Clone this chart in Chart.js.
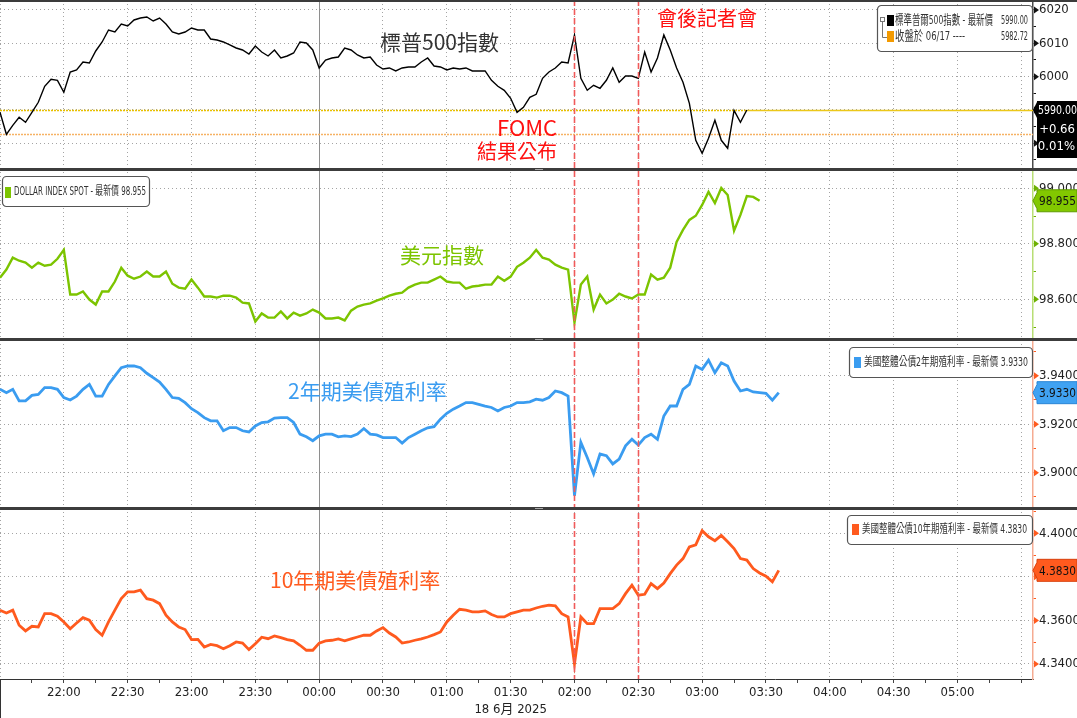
<!DOCTYPE html>
<html>
<head>
<meta charset="utf-8">
<script src="https://cdn.jsdelivr.net/npm/chart.js@4.4.1/dist/chart.umd.min.js"></script>
<style>
  html, body { margin: 0; padding: 0; background: #fff; }
</style>
</head>
<body>
<canvas id="chart" width="1077" height="718"></canvas>
<script>
// sample times (every 3 min, 17-18 Jun 2025)
var times = [
  '21:30','21:33','21:36','21:39','21:42','21:45','21:48','21:51','21:54','21:57',
  '22:00','22:03','22:06','22:09','22:12','22:15','22:18','22:21','22:24','22:27',
  '22:30','22:33','22:36','22:39','22:42','22:45','22:48','22:51','22:54','22:57',
  '23:00','23:03','23:06','23:09','23:12','23:15','23:18','23:21','23:24','23:27',
  '23:30','23:33','23:36','23:39','23:42','23:45','23:48','23:51','23:54','23:57',
  '00:00','00:03','00:06','00:09','00:12','00:15','00:18','00:21','00:24','00:27',
  '00:30','00:33','00:36','00:39','00:42','00:45','00:48','00:51','00:54','00:57',
  '01:00','01:03','01:06','01:09','01:12','01:15','01:18','01:21','01:24','01:27',
  '01:30','01:33','01:36','01:39','01:42','01:45','01:48','01:51','01:54','01:57',
  '02:00','02:03','02:06','02:09','02:12','02:15','02:18','02:21','02:24','02:27',
  '02:30','02:33','02:36','02:39','02:42','02:45','02:48','02:51','02:54','02:57',
  '03:00','03:03','03:06','03:09','03:12','03:15','03:18','03:21','03:24','03:27',
  '03:30','03:33','03:36'
];

var spx = [
  5989.3, 5982.7, 5985.4, 5987.8, 5986.3, 5989.3, 5992.3, 5997.1, 5999.2, 5998.9,
  5995.3, 6001.4, 6002.0, 6004.4, 6004.1, 6007.7, 6010.4, 6014.0, 6013.4, 6015.8,
  6015.2, 6017.0, 6017.6, 6017.9, 6016.7, 6017.6, 6015.8, 6013.4, 6012.8, 6013.4,
  6014.6, 6014.0, 6014.0, 6011.3, 6011.0, 6010.4, 6009.5, 6008.6, 6008.0, 6006.8,
  6009.2, 6007.4, 6006.2, 6008.0, 6005.6, 6006.2, 6007.1, 6010.4, 6010.1, 6008.0,
  6002.6, 6005.0, 6005.6, 6005.9, 6008.6, 6008.0, 6006.5, 6005.6, 6005.9, 6003.5,
  6002.3, 6002.6, 6001.7, 6002.6, 6002.9, 6002.9, 6004.4, 6005.6, 6003.2, 6002.9,
  6002.0, 6002.6, 6002.3, 6002.6, 6001.7, 6001.7, 6001.7, 5998.9, 5997.1, 5995.9,
  5993.5, 5989.3, 5990.8, 5993.8, 5994.7, 5999.5, 6001.4, 6002.6, 6004.4, 6004.1,
  6012.5, 5999.5, 5995.9, 5997.4, 5996.5, 5998.9, 6002.6, 5998.3, 6000.2, 6000.2,
  5999.5, 6007.4, 6001.4, 6005.6, 6012.5, 6008.0, 6002.6, 5998.3, 5992.0, 5980.9,
  5977.0, 5981.5, 5986.9, 5980.9, 5978.5, 5989.9, 5986.3, 5990.0
];

var dxy = [
  98.678, 98.707, 98.750, 98.739, 98.732, 98.714, 98.732, 98.721, 98.725, 98.746,
  98.778, 98.617, 98.617, 98.628, 98.599, 98.581, 98.628, 98.628, 98.664, 98.714,
  98.685, 98.674, 98.682, 98.700, 98.682, 98.682, 98.700, 98.656, 98.642, 98.638,
  98.671, 98.642, 98.610, 98.610, 98.606, 98.613, 98.613, 98.606, 98.588, 98.585,
  98.520, 98.549, 98.534, 98.534, 98.556, 98.531, 98.552, 98.541, 98.549, 98.563,
  98.552, 98.531, 98.531, 98.534, 98.524, 98.559, 98.574, 98.581, 98.585, 98.595,
  98.603, 98.613, 98.620, 98.624, 98.642, 98.653, 98.660, 98.660, 98.671, 98.682,
  98.664, 98.660, 98.660, 98.638, 98.646, 98.649, 98.653, 98.653, 98.682, 98.667,
  98.682, 98.717, 98.732, 98.750, 98.778, 98.750, 98.743, 98.725, 98.714, 98.707,
  98.516, 98.653, 98.682, 98.563, 98.617, 98.585, 98.599, 98.620, 98.610, 98.603,
  98.617, 98.617, 98.689, 98.671, 98.678, 98.714, 98.807, 98.850, 98.886, 98.901,
  98.940, 98.987, 98.947, 99.001, 98.976, 98.847, 98.904, 98.972, 98.969, 98.955
];

var us2y = [
  3.9344, 3.9330, 3.9344, 3.9296, 3.9296, 3.9319, 3.9323, 3.9351, 3.9351, 3.9344,
  3.9310, 3.9300, 3.9316, 3.9344, 3.9364, 3.9316, 3.9316, 3.9364, 3.9399, 3.9433,
  3.9440, 3.9440, 3.9433, 3.9410, 3.9392, 3.9374, 3.9344, 3.9310, 3.9307, 3.9289,
  3.9264, 3.9248, 3.9227, 3.9214, 3.9214, 3.9173, 3.9186, 3.9186, 3.9173, 3.9168,
  3.9193, 3.9207, 3.9210, 3.9225, 3.9227, 3.9227, 3.9207, 3.9159, 3.9148, 3.9132,
  3.9152, 3.9159, 3.9159, 3.9148, 3.9152, 3.9149, 3.9159, 3.9182, 3.9159, 3.9156,
  3.9145, 3.9145, 3.9145, 3.9122, 3.9145, 3.9159, 3.9173, 3.9185, 3.9190, 3.9221,
  3.9245, 3.9262, 3.9275, 3.9289, 3.9289, 3.9282, 3.9275, 3.9269, 3.9255, 3.9269,
  3.9275, 3.9289, 3.9289, 3.9292, 3.9303, 3.9299, 3.9310, 3.9337, 3.9330, 3.9316,
  3.8905, 3.9125, 3.9063, 3.8995, 3.9077, 3.9070, 3.9036, 3.9056, 3.9111, 3.9138,
  3.9114, 3.9145, 3.9159, 3.9138, 3.9234, 3.9275, 3.9275, 3.9344, 3.9364, 3.9440,
  3.9426, 3.9464, 3.9412, 3.9453, 3.9440, 3.9378, 3.9337, 3.9344, 3.9333, 3.9330,
  3.9327, 3.9299, 3.9330
];

var us10y = [
  4.3647, 4.3634, 4.3647, 4.3578, 4.3552, 4.3573, 4.3570, 4.3631, 4.3631, 4.3619,
  4.3593, 4.3562, 4.3588, 4.3613, 4.3601, 4.3558, 4.3532, 4.3593, 4.3647, 4.3700,
  4.3731, 4.3731, 4.3739, 4.3700, 4.3693, 4.3677, 4.3624, 4.3593, 4.3570, 4.3558,
  4.3512, 4.3513, 4.3478, 4.3490, 4.3484, 4.3470, 4.3484, 4.3501, 4.3496, 4.3466,
  4.3493, 4.3523, 4.3516, 4.3529, 4.3521, 4.3512, 4.3506, 4.3486, 4.3463, 4.3463,
  4.3496, 4.3506, 4.3509, 4.3515, 4.3506, 4.3515, 4.3524, 4.3532, 4.3532, 4.3552,
  4.3567, 4.3542, 4.3524, 4.3496, 4.3501, 4.3509, 4.3515, 4.3524, 4.3535, 4.3547,
  4.3593, 4.3624, 4.3651, 4.3647, 4.3639, 4.3639, 4.3644, 4.3627, 4.3616, 4.3616,
  4.3631, 4.3639, 4.3647, 4.3647, 4.3657, 4.3665, 4.3670, 4.3667, 4.3631, 4.3616,
  4.3401, 4.3616, 4.3585, 4.3585, 4.3654, 4.3654, 4.3654, 4.3677, 4.3723, 4.3762,
  4.3716, 4.3720, 4.3769, 4.3746, 4.3772, 4.3815, 4.3854, 4.3884, 4.3938, 4.3947,
  4.4012, 4.3984, 4.3966, 4.3990, 4.3961, 4.3930, 4.3884, 4.3877, 4.3838, 4.3818,
  4.3803, 4.3777, 4.3830
];

// axis ticks
var xTickLabels = ['22:00','22:30','23:00','23:30','00:00','00:30','01:00','01:30',
                   '02:00','02:30','03:00','03:30','04:00','04:30','05:00'];
var dateLabel = '18 6月 2025';
var spxTicks = [5975, 5980, 5985, 5990, 5995, 6000, 6005, 6010, 6015, 6020];
var spxMajor = [5980, 5990, 6000, 6010, 6020];
var dxyTicks = [98.5, 98.6, 98.7, 98.8, 98.9, 99.0];
var dxyMajor = [98.6, 98.8, 99.0];
var us2yTicks = [3.89, 3.90, 3.91, 3.92, 3.93, 3.94, 3.95];
var us2yMajor = [3.90, 3.92, 3.94];
var us10yTicks = [4.34, 4.35, 4.36, 4.37, 4.38, 4.39, 4.40, 4.41];
var us10yMajor = [4.34, 4.36, 4.38, 4.40];

// reference levels and events
var spxPrevClose = 5982.72;
var spxLast = 5990.00;
var spxChange = '+0.66';
var spxChangePct = '0.01%';
var eventTimes = ['02:00', '02:30'];

var NARROW = "'Liberation Sans Narrow', 'DejaVu Sans Condensed', 'Noto Sans CJK TC', sans-serif";
var CJK = "'Noto Sans CJK TC', 'Noto Sans', sans-serif";

function toMin(t) {
    var h = +t.slice(0, 2), m = +t.slice(3, 5);
    var v = h * 60 + m;
    if (h < 12) v += 24 * 60;
    return v - (21 * 60 + 30);
}

function isMajor(list, v) {
    return list.some(function (m) { return Math.abs(m - v) < 1e-7; });
}

var panels = [
    { id: 'ySpx', data: spx, ticks: spxTicks, major: spxMajor, digits: 0, min: 5972.06, max: 6023.0,
      color: '#000000', width: 1.4, axis: '#4a4a4a', arrow: '#111111' },
    { id: 'yDxy', data: dxy, ticks: dxyTicks, major: dxyMajor, digits: 3, min: 98.4551, max: 99.0668,
      color: '#7cc400', width: 2.4, axis: '#b8de74', arrow: '#6cb000' },
    { id: 'y2y', data: us2y, ticks: us2yTicks, major: us2yMajor, digits: 4, min: 3.88493, max: 3.95493,
      color: '#3a9cf0', width: 2.8, axis: '#f5ab92', arrow: '#ff5a1e' },
    { id: 'y10y', data: us10y, ticks: us10yTicks, major: us10yMajor, digits: 4, min: 4.33311, max: 4.41104,
      color: '#ff5a1e', width: 2.8, axis: '#f5ab92', arrow: '#ff5a1e' }
];

var scales = {
    x: {
        type: 'linear', position: 'bottom', min: 0, max: 485.5,
        afterBuildTicks: function (s) {
            var t = [];
            for (var m = 0; m <= 480; m += 15) t.push({ value: m });
            s.ticks = t;
        },
        afterFit: function (s) { s.height = 39; s.paddingLeft = 0; s.paddingRight = 0; },
        ticks: {
            autoSkip: false, maxRotation: 0, padding: 2, color: '#222', font: { size: 13 },
            callback: function (v) {
                var hit = xTickLabels.find(function (l) { return toMin(l) === v; });
                return hit || '';
            }
        },
        grid: {
            color: function (c) { return c.tick && c.tick.value % 30 === 0 ? '#a4a4a4' : 'rgba(0,0,0,0)'; },
            tickColor: '#444', tickLength: 4, lineWidth: 1
        },
        border: { color: '#333', width: 1, dash: [1, 3] }
    }
};

panels.forEach(function (p) {
    scales[p.id] = {
        type: 'linear', position: 'right', stack: 'panels', stackWeight: 1,
        min: p.min, max: p.max,
        afterBuildTicks: function (s) { s.ticks = p.ticks.map(function (v) { return { value: v }; }); },
        afterFit: function (s) { s.width = 44; s.paddingTop = 0; s.paddingBottom = 0; },
        ticks: {
            autoSkip: false, padding: 3, color: '#222', font: { size: 13 },
            callback: function (v) { return isMajor(p.major, v) ? v.toFixed(p.digits) : ''; }
        },
        grid: {
            color: function (c) { return c.tick && isMajor(p.major, c.tick.value) ? '#a4a4a4' : 'rgba(0,0,0,0)'; },
            tickColor: p.arrow, tickLength: 3, lineWidth: 1
        },
        border: { color: p.axis, width: 1.5, dash: [1, 3] }
    };
});

var datasets = panels.map(function (p) {
    return {
        data: p.data.map(function (v, i) { return { x: toMin(times[i]), y: v }; }),
        yAxisID: p.id, xAxisID: 'x',
        borderColor: p.color, borderWidth: p.width,
        pointRadius: 0, tension: 0, fill: false
    };
});

var annotations = [
    { text: '標普500指數', x: 380, y: 42, size: 21, color: '#333333' },
    { text: 'FOMC', x: 497, y: 128, size: 22, color: '#ff1010' },
    { text: '結果公布', x: 477, y: 151, size: 20, color: '#ff1010' },
    { text: '會後記者會', x: 657, y: 18, size: 20, color: '#ff1010' },
    { text: '美元指數', x: 400, y: 255, size: 21, color: '#7cc400' },
    { text: '2年期美債殖利率', x: 288, y: 391, size: 21, color: '#3a9cf0' },
    { text: '10年期美債殖利率', x: 270, y: 580, size: 21, color: '#ff5a1e' }
];

function legendBox(ctx, x, y, w, h) {
    ctx.beginPath();
    ctx.roundRect(x + 0.5, y + 0.5, w, h, 4);
    ctx.fillStyle = '#ffffff';
    ctx.fill();
    ctx.lineWidth = 1.2;
    ctx.strokeStyle = '#555555';
    ctx.stroke();
}

function tagBox(ctx, yc, top, bottom, fill, stroke) {
    var l = 1037, r = 1077;
    ctx.beginPath();
    ctx.moveTo(1033, yc);
    ctx.lineTo(l, Math.max(top, yc - 8));
    ctx.lineTo(l, top);
    ctx.lineTo(r, top);
    ctx.lineTo(r, bottom);
    ctx.lineTo(l, bottom);
    ctx.lineTo(l, Math.min(bottom, yc + 8));
    ctx.closePath();
    ctx.fillStyle = fill;
    ctx.fill();
    if (stroke) {
        ctx.lineWidth = 1;
        ctx.strokeStyle = stroke;
        ctx.stroke();
    }
}

var overlay = {
    id: 'overlay',
    beforeDatasetsDraw: function (chart) {
        var ctx = chart.ctx, a = chart.chartArea, x = chart.scales.x, ys = chart.scales.ySpx;
        ctx.save();
        // day boundary
        var mx = Math.round(x.getPixelForValue(toMin('00:00'))) + 0.5;
        ctx.strokeStyle = '#8e8e8e';
        ctx.lineWidth = 1;
        ctx.beginPath(); ctx.moveTo(mx, a.top); ctx.lineTo(mx, a.bottom); ctx.stroke();
        // previous close
        var yp = Math.round(ys.getPixelForValue(spxPrevClose)) + 0.5;
        ctx.setLineDash([2, 1]);
        ctx.strokeStyle = '#f6b264';
        ctx.lineWidth = 1.3;
        ctx.beginPath(); ctx.moveTo(a.left, yp); ctx.lineTo(a.right, yp); ctx.stroke();
        // last price
        var yl = Math.round(ys.getPixelForValue(spxLast)) + 0.5;
        var xl = x.getPixelForValue(toMin(times[spx.length - 1]));
        ctx.strokeStyle = '#e8c000';
        ctx.beginPath(); ctx.moveTo(a.left, yl); ctx.lineTo(xl, yl); ctx.stroke();
        ctx.setLineDash([]);
        ctx.strokeStyle = '#ecc81a';
        ctx.lineWidth = 1.5;
        ctx.beginPath(); ctx.moveTo(xl, yl); ctx.lineTo(a.right, yl); ctx.stroke();
        ctx.restore();
    },
    afterDatasetsDraw: function (chart) {
        var ctx = chart.ctx, a = chart.chartArea, x = chart.scales.x;
        ctx.save();
        // FOMC / press conference markers
        ctx.strokeStyle = '#f05a5a';
        ctx.lineWidth = 1.6;
        ctx.setLineDash([6, 3]);
        eventTimes.forEach(function (t) {
            var ex = Math.round(x.getPixelForValue(toMin(t))) + 0.5;
            ctx.beginPath(); ctx.moveTo(ex, a.top); ctx.lineTo(ex, a.bottom); ctx.stroke();
        });
        ctx.setLineDash([]);
        // text annotations
        ctx.textBaseline = 'middle';
        ctx.textAlign = 'left';
        annotations.forEach(function (n) {
            ctx.font = n.size + 'px ' + CJK;
            ctx.fillStyle = n.color;
            ctx.fillText(n.text, n.x, n.y);
        });
        ctx.restore();
    },
    afterDraw: function (chart) {
        var ctx = chart.ctx, x = chart.scales.x;
        var sc = panels.map(function (p) { return chart.scales[p.id]; });
        ctx.save();

        // axis arrows at labelled ticks
        panels.forEach(function (p, k) {
            ctx.fillStyle = p.arrow;
            p.major.forEach(function (v) {
                var ty = sc[k].getPixelForValue(v);
                ctx.beginPath();
                ctx.moveTo(1034, ty - 3.5); ctx.lineTo(1039, ty); ctx.lineTo(1034, ty + 3.5);
                ctx.closePath(); ctx.fill();
            });
        });

        // panel separators
        ctx.fillStyle = '#3c3c3c';
        ctx.fillRect(0, 0, 1077, 2);
        for (var k = 1; k < sc.length; k++) {
            var sy = Math.round(sc[k].top);
            ctx.fillStyle = '#3c3c3c';
            ctx.fillRect(0, sy - 2, 1077, 3);
            ctx.fillStyle = '#a8a8a8';
            ctx.fillRect(535, sy - 1, 8, 1);
        }
        ctx.fillStyle = '#333';
        ctx.fillRect(0, chart.chartArea.bottom, 1, 718 - chart.chartArea.bottom);

        // legends
        ctx.textBaseline = 'middle';
        // S&P 500
        legendBox(ctx, 877, 5, 155, 46);
        ctx.strokeStyle = '#777'; ctx.lineWidth = 1;
        ctx.strokeRect(880.5, 17.5, 4, 4);
        ctx.beginPath(); ctx.moveTo(882.5, 22); ctx.lineTo(882.5, 37.5); ctx.lineTo(887, 37.5); ctx.stroke();
        ctx.fillStyle = '#000'; ctx.fillRect(887, 15, 7, 11);
        ctx.fillStyle = '#f39a00'; ctx.fillRect(887, 31, 7, 11);
        ctx.fillStyle = '#333';
        ctx.textAlign = 'left';
        ctx.font = '13px ' + NARROW;
        ctx.fillText('標準普爾500指數 - 最新價', 895, 21, 98);
        ctx.fillText('收盤於 06/17 ----', 895, 37, 70);
        ctx.textAlign = 'right';
        ctx.font = '12px ' + NARROW;
        ctx.fillText(spxLast.toFixed(2), 1028, 21, 27);
        ctx.fillText(spxPrevClose.toFixed(2), 1028, 37, 27);
        // Dollar index
        legendBox(ctx, 2, 176, 147, 30);
        ctx.fillStyle = '#7cc400'; ctx.fillRect(5, 187, 6, 11);
        ctx.fillStyle = '#333'; ctx.textAlign = 'left';
        ctx.font = '12px ' + NARROW;
        ctx.fillText('DOLLAR INDEX SPOT - 最新價 ' + dxy[dxy.length - 1].toFixed(3), 14, 192, 132);
        // 2Y
        legendBox(ctx, 849, 347, 183, 30);
        ctx.fillStyle = '#3a9cf0'; ctx.fillRect(854, 357, 7, 11);
        ctx.fillStyle = '#333';
        ctx.fillText('美國整體公債2年期殖利率 - 最新價 ' + us2y[us2y.length - 1].toFixed(4), 864, 363, 164);
        // 10Y
        legendBox(ctx, 847, 515, 185, 29);
        ctx.fillStyle = '#ff5a1e'; ctx.fillRect(852, 524, 7, 11);
        ctx.fillStyle = '#333';
        ctx.fillText('美國整體公債10年期殖利率 - 最新價 ' + us10y[us10y.length - 1].toFixed(4), 862, 530, 165);

        // last value tags
        ctx.font = '13px ' + NARROW;
        var yS = sc[0].getPixelForValue(spxLast);
        tagBox(ctx, yS, yS - 9, yS + 48, '#000000');
        ctx.fillStyle = '#ffffff';
        ctx.textAlign = 'left';
        ctx.fillText(spxLast.toFixed(2), 1038, yS + 1, 39);
        ctx.textAlign = 'right';
        ctx.fillText(spxChange, 1075, yS + 20);
        ctx.fillText(spxChangePct, 1075, yS + 37);

        var tags = [
            { k: 1, v: dxy[dxy.length - 1], d: 3, fill: '#82c800', stroke: '#5f9a00' },
            { k: 2, v: us2y[us2y.length - 1], d: 4, fill: '#40a2f2', stroke: '#2a86d6' },
            { k: 3, v: us10y[us10y.length - 1], d: 4, fill: '#ff5a1e', stroke: '#d8400c' }
        ];
        tags.forEach(function (t) {
            var ty = sc[t.k].getPixelForValue(t.v);
            tagBox(ctx, ty, ty - 11, ty + 11, t.fill, t.stroke);
            ctx.fillStyle = '#111';
            ctx.textAlign = 'left';
            ctx.fillText(t.v.toFixed(t.d), 1039, ty + 1, 37);
        });

        // date under the time axis
        ctx.fillStyle = '#222';
        ctx.textAlign = 'center';
        ctx.font = '13px ' + NARROW;
        ctx.fillText(dateLabel, x.getPixelForValue(toMin('01:30')), 710);
        ctx.restore();
    }
};

Chart.defaults.font.family = NARROW;

new Chart(document.getElementById('chart'), {
    type: 'line',
    data: { datasets: datasets },
    options: {
        responsive: false,
        animation: false,
        devicePixelRatio: 1,
        layout: { padding: 0 },
        scales: scales,
        plugins: {
            legend: { display: false },
            tooltip: { enabled: false }
        }
    },
    plugins: [overlay]
});
</script>
</body>
</html>
